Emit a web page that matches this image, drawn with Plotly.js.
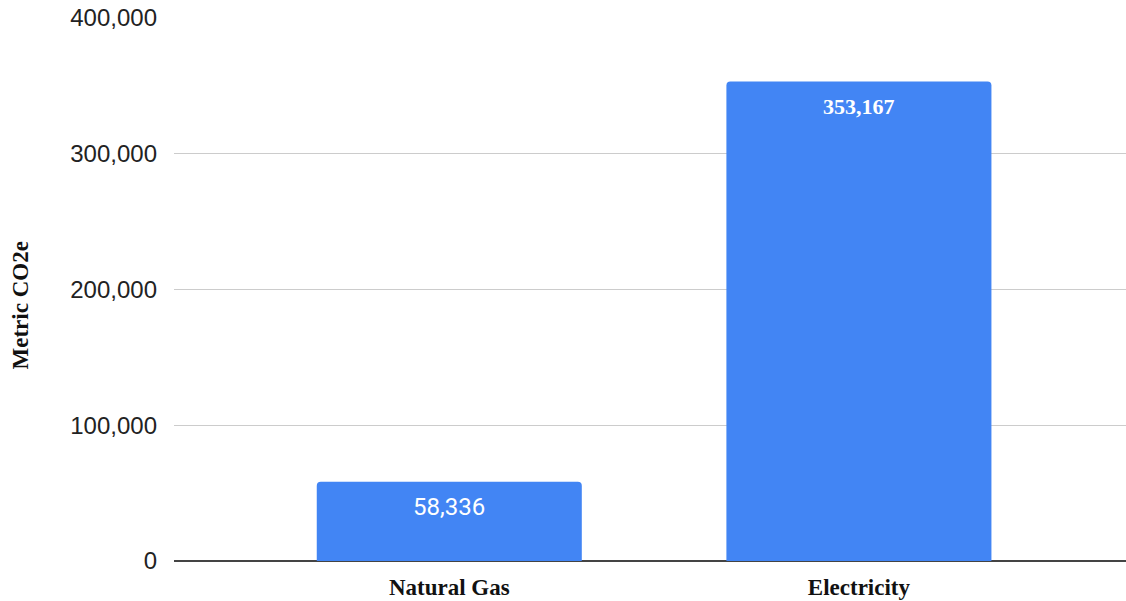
<!DOCTYPE html>
<html>
<head>
<meta charset="utf-8">
<script src="https://cdn.plot.ly/plotly-3.0.1.min.js"></script>
<style>html,body{margin:0;padding:0;background:#fff;}#chart{width:1126px;height:601px;}</style>
</head>
<body>
<div id="chart"></div>
<script>
const categories = ["Natural Gas", "Electricity"];
const values = [58336, 353167];
const yTitle = "Metric CO2e";
const labelFonts = ["Roboto, 'Liberation Sans', sans-serif", "'Liberation Serif', serif"];
const labelColor = "#ffffff";
const barColor = "#4285F4";

const trace = {
  type: "bar",
  x: categories,
  y: values,
  width: 0.647,
  marker: {color: barColor, cornerradius: 4},
  hoverinfo: "x+y"
};

const annotations = categories.map((c, i) => ({
  x: c, y: values[i], xref: "x", yref: "y",
  text: values[i].toLocaleString("en-US"),
  showarrow: false, yanchor: "middle", yshift: -25,
  font: {family: labelFonts[i], size: i === 0 ? 24 : 22, color: labelColor, weight: i === 0 ? 400 : 700}
}));

annotations.push({
  xref: "paper", yref: "paper",
  x: -174/952 + 19.5/952, y: (561 - 306) / 543,
  xanchor: "center", yanchor: "middle",
  text: yTitle, textangle: -90, showarrow: false,
  font: {family: "'Liberation Serif', serif", size: 23, color: "#111", weight: 700}
});

const layout = {
  width: 1126, height: 601,
  margin: {l: 174, r: 0, t: 18, b: 40},
  paper_bgcolor: "#fff", plot_bgcolor: "#fff",
  showlegend: false,
  xaxis: {
    type: "category",
    range: [-0.672, 1.652],
    showgrid: false, zeroline: false,
    showline: false,
    ticks: "",
    tickfont: {family: "'Liberation Serif', serif", size: 23, color: "#111", weight: 700},
    ticklabelstandoff: 10
  },
  yaxis: {
    range: [0, 400000],
    tickvals: [0, 100000, 200000, 300000, 400000],
    tickformat: ",",
    showgrid: true, gridcolor: "#cccccc", gridwidth: 1,
    zeroline: true, zerolinecolor: "#444444", zerolinewidth: 2,
    showline: false,
    ticks: "",
    ticklabelstandoff: 16,
    tickfont: {family: "'Liberation Sans', Arial, sans-serif", size: 24, color: "#222"}
  },
  annotations: annotations
};

Plotly.newPlot("chart", [trace], layout, {displayModeBar: false, staticPlot: true});
</script>
</body>
</html>
